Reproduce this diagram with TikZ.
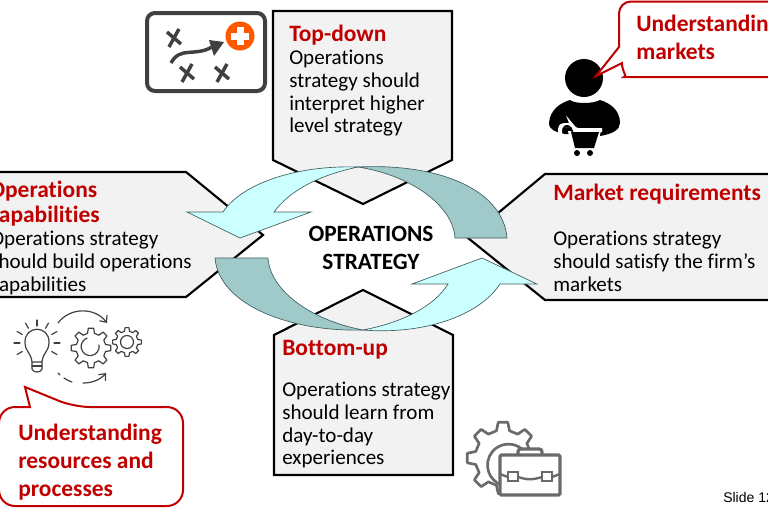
\documentclass[tikz,border=0pt]{standalone}
\usepackage{fontspec}
\setmainfont[Ligatures=NoCommon]{Carlito}
\newfontfamily\slidefont{Liberation Sans}
\usepackage{tikz}
\usetikzlibrary{arrows.meta}
\definecolor{darkred}{HTML}{C00000}
\definecolor{lightcyan}{HTML}{CCFFFF}
\definecolor{darkteal}{HTML}{A0C9C9}
\definecolor{edgeteal}{HTML}{3F5F5F}
\definecolor{panel}{HTML}{F2F2F2}
\definecolor{iconline}{HTML}{404040}
\definecolor{icongrey}{HTML}{6A6A6A}
\tikzset {
  x=0.75pt, y=-0.75pt,
  % the four grey panels
  panelbox/.style={draw=black, fill=panel, line width=1.6pt, line join=miter},
  % curved arrows round the centre
  turn/.style={draw=edgeteal, fill=lightcyan, line width=0.5pt},
  turndark/.style={draw=edgeteal, fill=darkteal, line width=0.5pt},
  % text in the panels
  heading/.style={anchor=north west, inner sep=0pt, align=left, text=darkred, font=\fontsize{17.6}{18.7}\selectfont\bfseries},
  body/.style={anchor=north west, inner sep=0pt, align=left, font=\fontsize{15.8}{17}\selectfont},
  callout/.style={draw=darkred, fill=white, line width=1.5pt},
  callouttext/.style={anchor=north west, inner sep=0pt, align=left, text=darkred, font=\fontsize{17.6}{21}\selectfont\bfseries},
  thinicon/.style={draw=iconline, line width=0.9pt, line cap=round, line join=round},
  mapline/.style={draw=iconline, line width=2.6pt},
}
% centre, outer radius, inner radius, teeth, style
\newcommand{\gearicon}[5]{
  \begin{scope}[shift={#1}]
    \pgfmathsetmacro{\tstep}{360/#4}
    \pgfmathsetmacro{\tlast}{360-\tstep}
    \draw[#5] (-0.30*\tstep:#3)
      \foreach \a in {0,\tstep,...,\tlast} {
        -- ({\a-0.30*\tstep}:#3) -- ({\a-0.17*\tstep}:#2) -- ({\a+0.17*\tstep}:#2) -- ({\a+0.30*\tstep}:#3)
      } -- cycle;
  \end{scope}
}
\begin{document}
\begin{tikzpicture}
  \useasboundingbox (0,0) rectangle (768,512);
  \clip (0,0) rectangle (768,512);

  % panels
  \draw[panelbox] (273,11) -- (452,11) -- (452,160) -- (363,204) -- (273,160) -- cycle;
  \draw[panelbox] (-10,172) -- (186,172) -- (263,235) -- (186,297) -- (-10,297) -- cycle;
  \draw[panelbox] (780,174) -- (545,174) -- (468,238) -- (545,300) -- (780,300) -- cycle;
  \draw[panelbox] (274,335) -- (363,290) -- (453,335) -- (453,475) -- (274,475) -- cycle;

  % turning arrows
  \draw[turn] (358,167) .. controls (300,165) and (243,182) .. (223,212) -- (187,212) -- (240,238) -- (311,212) -- (274,212) .. controls (290,190) and (320,175) .. (358,167) -- cycle;
  \draw[turndark] (358,167) .. controls (440,163) and (503,190) .. (507,238) -- (455,238) .. controls (453,205) and (410,175) .. (358,167) -- cycle;
  \draw[turn] (363,330) .. controls (425,335) and (480,315) .. (500,284) -- (537,284) -- (482,258) -- (412,284) -- (448,284) .. controls (435,305) and (405,322) .. (363,330) -- cycle;
  \draw[turndark] (215,258) .. controls (219,305) and (290,332) .. (363,330) .. controls (310,320) and (270,290) .. (268,258) -- cycle;

  % text
  \node[anchor=center, inner sep=0pt, align=center, font=\fontsize{17.5}{21}\selectfont\bfseries] (centre) at (371,248) {OPERATIONS\\STRATEGY};

  \node[heading] (tophead) at (289,25) {Top-down};
  \node[body] (topbody) at (289,50) {Operations\\strategy should\\interpret higher\\level strategy};
  \node[heading] (lefthead) at (-11,181) {Operations\\capabilities};
  \node[body] (leftbody) at (-10,231) {Operations strategy\\should build operations\\capabilities};
  \node[heading] (righthead) at (553,184) {Market requirements};
  \node[body] (rightbody) at (553,231) {Operations strategy\\should satisfy the firm’s\\markets};
  \node[heading] (bothead) at (282,340) {Bottom-up};
  \node[body] (botbody) at (282,382) {Operations strategy\\should learn from\\day-to-day\\experiences};

  % map icon
  \draw[mapline, line width=3pt, rounded corners=6] (147,13) rectangle (265,91);
  \foreach \mx/\my in {174/38, 187/73, 222/73} {
    \draw[mapline] (\mx-7,\my-6) -- (\mx+7,\my+6);
    \draw[mapline] (\mx+5,\my-9) -- (\mx-5,\my+9);
  }
  \draw[mapline] (171,63) .. controls (180,46) and (195,57) .. (212,47);
  \fill[iconline] (224,42) -- (209,40) -- (214,56) -- cycle;
  \fill[orange!70!red] (240,36) circle (14.5);
  \fill[white] (236.5,27) rectangle (243.5,45);
  \fill[white] (231,32.5) rectangle (249,39.5);

  % person with cart
  \fill[black] (584,78) circle (19);
  \fill[black] (549,123) .. controls (550,110) and (560,103) .. (570,100) .. controls (575,104) and (593,104) .. (600,100) .. controls (610,103) and (620,110) .. (620,123) .. controls (620,130) and (612,134) .. (600,136) -- (565,134) .. controls (556,132) and (549,130) .. (549,123) -- cycle;
  \draw[white, line width=3pt, rounded corners=3] (560,134) -- (560,125) -- (572,125) -- (574,130) -- (602,130);
  \fill[white] (568,131) -- (601,131) -- (596,150) -- (572,150) -- cycle;
  \draw[black, line width=1.2pt, rounded corners=1.5] (564,128) -- (564,126) -- (570,126) -- (573,133);
  \fill[black] (571,132) -- (599,132) -- (594,148) -- (575,148) -- cycle;
  \fill[black] (577,153) circle (3);
  \fill[black] (590,153) circle (3);

  % callouts
  \draw[callout] (619,47) [rounded corners=9] -- (619,1.5) -- (790,1.5) -- (790,77) -- (636,77) [sharp corners] .. controls (628,77) and (622,72) .. (622,63) -- (596,76) -- (619,47) -- cycle;
  \node[callouttext] (markettext) at (636,15) {Understanding\\markets};
  \draw[callout] (30,407) [rounded corners=12] -- (-1,407) -- (-1,506) -- (183,506) -- (183,407) -- (74,407) [sharp corners] -- (25,387) -- (30,407) -- cycle;
  \node[callouttext] (resourcetext) at (18,424) {Understanding\\resources and\\processes};

  % bulb and gears
  \draw[thinicon] (32,362) .. controls (31,352) and (25,352) .. (25,342) .. controls (25,325) and (49,325) .. (49,342) .. controls (49,352) and (43,352) .. (42,362) -- cycle;
  \draw[thinicon] (32,362) -- (32,369) .. controls (33,373) and (41,373) .. (42,369) -- (42,362);
  \draw[thinicon] (32,366) -- (42,366);
  \foreach \ang in {-150,-120,-90,-60,-30,0,30,150,180} {
    \draw[thinicon] (37,343) ++(\ang:17) -- ++(\ang:6);
  }
  \gearicon{(91,348)}{20}{15}{8}{thinicon}
  \gearicon{(127,342)}{14.5}{11}{8}{thinicon}
  \draw[thinicon] (127,342) circle (6.5);
  \draw[thinicon] (99,345) arc (-10:250:9);
  \draw[thinicon, -{Straight Barb[length=4pt,width=7pt]}] (58,323) .. controls (70,307) and (95,307) .. (107,323);
  \draw[thinicon, -{Straight Barb[length=4pt,width=7pt]}] (83,383) .. controls (92,383) and (100,380) .. (106,373);
  \draw[thinicon] (58,373) -- (60,375);
  \draw[thinicon] (64,378) .. controls (67,380) and (69,381) .. (72,382);

  % gear and briefcase
  \gearicon{(503,458)}{36}{28}{8}{icongrey, line width=2pt, line join=round}
  \draw[icongrey, line width=2pt] (522,449) arc (-50:-250:21);
  \draw[icongrey, fill=white, line width=2.4pt, rounded corners=2] (518,455) -- (518,449) -- (542,449) -- (542,455);
  \draw[icongrey, fill=white, line width=2.4pt, rounded corners=1] (500,455) rectangle (560,495);
  \draw[icongrey, line width=1.8pt] (500,474) -- (508,477);
  \draw[icongrey, line width=1.8pt] (518,477) .. controls (528,480) and (532,480) .. (542,477);
  \draw[icongrey, line width=1.8pt] (552,477) -- (560,474);
  \draw[icongrey, line width=2pt] (508,472) rectangle (518,481);
  \draw[icongrey, line width=2pt] (542,472) rectangle (552,481);

  \node[anchor=base west, inner sep=0pt, font=\slidefont\fontsize{10.5}{12}\selectfont] (slidenum) at (723,502) {Slide 12};
\end{tikzpicture}
\end{document}
